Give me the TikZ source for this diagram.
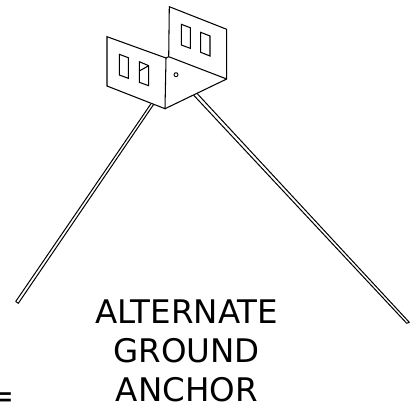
\documentclass[tikz,border=0pt]{standalone}
\usepackage{fontspec}
\setmainfont{DejaVu Sans}
\tikzset{
  ink/.style={line width=1.05pt,line join=miter,black},
  rod/.style={line width=1pt,line join=round,black},
  caption/.style={font=\fontsize{32.5}{39}\selectfont,align=center,inner sep=0pt,anchor=base}
}
\begin{document}
\begin{tikzpicture}[x=1pt,y=-1pt]
\useasboundingbox (0,0) rectangle (417,405);
% rods
\draw[rod] (151,103.7) -- (15.7,301.5) -- (18.3,303.3) -- (153.6,104.5);
\draw[rod] (193.5,95) -- (406.7,323.3) -- (409.3,322.3) -- (197.3,93.7);
% panels
\draw[ink] (166,58) -- (107,36.7) -- (107,86) -- (165,108.7) -- cycle;
\draw[ink] (168.7,56.7) -- (169.3,6.7) -- (226.7,29.3) -- (226.7,79) -- (165,108.7);
\draw[ink] (166,58) -- (168.7,56.7) -- (226.7,79);
% windows
\draw[ink] (119.3,54.3) -- (128.3,57.7) -- (128.3,78.3) -- (119.3,75) -- cycle;
\draw[ink] (139.3,61.7) -- (148.7,65.7) -- (148.7,85.7) -- (139.3,82.3) -- cycle;
\draw[ink] (139.3,71) -- (148.7,65.7);
\draw[ink] (181.3,24.3) -- (190.3,27.7) -- (190.3,48.3) -- (181.3,45) -- cycle;
\draw[ink] (200.7,32.3) -- (210,36) -- (210,56) -- (200.7,52.3) -- cycle;
\draw[line width=0.9pt] (176,74.7) circle (2);
% text
\node[caption] (altern) at (186.7,323.3) {ALTERNATE};
\node[caption] (ground) at (186.7,362.5) {GROUND};
\node[caption] (anchor) at (186.7,401) {ANCHOR};
\node[caption,anchor=base east] (equal) at (15,407.5) {=};
\end{tikzpicture}
\end{document}
